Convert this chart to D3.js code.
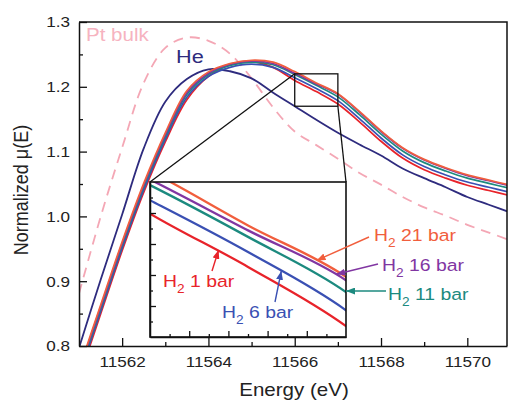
<!DOCTYPE html>
<html>
<head>
<meta charset="utf-8">
<script src="https://cdn.jsdelivr.net/npm/d3@7"></script>
<style>
body { margin: 0; background: #fff; }
svg { display: block; font-family: "Liberation Sans", Arial, sans-serif; }
</style>
</head>
<body>
<svg></svg>
<script>
var width = 508;
var height = 400;
var SX = 1.14; // the original figure's lettering is slightly wide

// energy grid (eV)
var energy = [11561, 11561.5, 11562, 11562.5, 11563, 11563.5, 11564, 11564.5, 11565, 11565.5,
    11566, 11566.5, 11567, 11567.5, 11568, 11568.5, 11569, 11569.5, 11570, 11570.5, 11571];

// normalized mu(E)
var ptBulk = [0.881, 0.999, 1.106, 1.206, 1.260, 1.276, 1.271, 1.251, 1.213, 1.168,
    1.131, 1.110, 1.089, 1.067, 1.049, 1.030, 1.014, 1.001, 0.987, 0.975, 0.963];
var he = [0.797, 0.902, 1.003, 1.105, 1.177, 1.212, 1.227, 1.224, 1.213, 1.191,
    1.170, 1.149, 1.129, 1.111, 1.094, 1.074, 1.059, 1.045, 1.030, 1.018, 1.006];
var h2_1 = [0.750, 0.849, 0.947, 1.037, 1.115, 1.180, 1.216, 1.234, 1.239, 1.230,
    1.2098, 1.1926, 1.1735, 1.146, 1.116, 1.090, 1.072, 1.059, 1.048, 1.040, 1.032];
var h2_6 = [0.754, 0.853, 0.951, 1.041, 1.119, 1.184, 1.216, 1.230, 1.235, 1.230,
    1.2141, 1.1974, 1.1786, 1.151, 1.121, 1.095, 1.077, 1.064, 1.053, 1.045, 1.037];
var h2_11 = [0.758, 0.857, 0.955, 1.045, 1.123, 1.188, 1.219, 1.233, 1.238, 1.234,
    1.2190, 1.2023, 1.1845, 1.157, 1.127, 1.101, 1.083, 1.070, 1.059, 1.051, 1.043];
var h2_16 = [0.761, 0.860, 0.958, 1.048, 1.126, 1.191, 1.221, 1.235, 1.240, 1.236,
    1.2208, 1.2044, 1.1883, 1.161, 1.131, 1.105, 1.087, 1.074, 1.063, 1.055, 1.047];
var h2_21 = [0.764, 0.863, 0.961, 1.051, 1.129, 1.194, 1.223, 1.236, 1.241, 1.238,
    1.2235, 1.2060, 1.1894, 1.162, 1.132, 1.106, 1.088, 1.075, 1.064, 1.056, 1.048];

var xTicks = [11562, 11564, 11566, 11568, 11570];
var xMinor = [11563, 11565, 11567, 11569];
var yTicks = [0.8, 0.9, 1.0, 1.1, 1.2, 1.3];
var yMinor = [0.85, 0.95, 1.05, 1.15, 1.25];

// zoomed window shown in the inset
var zoomX = [11566, 11567];
var zoomY = [1.17, 1.22];
var insetXMajor = [11566.2, 11566.4, 11566.6, 11566.8];
var insetXMinor = [11566.1, 11566.3, 11566.5, 11566.7, 11566.9];
var insetYMajor = [1.18, 1.19, 1.2, 1.21];
var insetYMinor = [1.175, 1.185, 1.195, 1.205, 1.215];

var h2Series = [
    { label: "1 bar", values: h2_1, color: "#e8232a" },
    { label: "6 bar", values: h2_6, color: "#3a50b3" },
    { label: "11 bar", values: h2_11, color: "#1c8a7f" },
    { label: "16 bar", values: h2_16, color: "#8136a2" },
    { label: "21 bar", values: h2_21, color: "#f15e3d" }
];

// label placement (px) and arrow tip energy on each curve
var annotations = [
    { s: 4, tx: 374, ty: 241, fx: 369, fy: 237, tipE: 11566.85 },
    { s: 3, tx: 382, ty: 271, fx: 378, fy: 264, tipE: 11566.95 },
    { s: 2, tx: 388, ty: 300, fx: 386, fy: 291, tipE: 11567.0 },
    { s: 1, tx: 222, ty: 318, fx: 275, fy: 302, tipE: 11566.67 },
    { s: 0, tx: 163, ty: 287, fx: 212, fy: 271, tipE: 11566.35 }
];

const svg = d3.select('svg')
    .attr('width', width)
    .attr('height', height);

const x = d3.scaleLinear().domain([11561, 11570.92]).range([79, 507]);
const y = d3.scaleLinear().domain([0.8, 1.3]).range([346, 22]);
const ix = d3.scaleLinear().domain(zoomX).range([150, 346]);
const iy = d3.scaleLinear().domain(zoomY).range([337, 182]);

const defs = svg.append('defs');
defs.append('clipPath').attr('id', 'clipMain').append('rect')
    .attr('x', x.range()[0]).attr('y', y.range()[1])
    .attr('width', x.range()[1] - x.range()[0]).attr('height', y.range()[0] - y.range()[1]);
defs.append('clipPath').attr('id', 'clipInset').append('rect')
    .attr('x', ix.range()[0]).attr('y', iy.range()[1])
    .attr('width', ix.range()[1] - ix.range()[0]).attr('height', iy.range()[0] - iy.range()[1]);

h2Series.forEach(function(s, i) {
    defs.append('marker').attr('id', 'arrow' + i)
        .attr('markerUnits', 'userSpaceOnUse')
        .attr('markerWidth', 9).attr('markerHeight', 7)
        .attr('refX', 9).attr('refY', 3.5)
        .attr('orient', 'auto')
        .append('path').attr('d', 'M0,0L9,3.5L0,7Z').attr('fill', s.color);
});

function lineFor(xs, ys) {
    return d3.line()
        .x((d, i) => xs(energy[i]))
        .y(d => ys(d))
        .curve(d3.curveCatmullRom.alpha(0.5));
}

// main curves
const main = svg.append('g').attr('clip-path', 'url(#clipMain)');
main.append('path').datum(ptBulk)
    .attr('d', lineFor(x, y)).attr('fill', 'none')
    .attr('stroke', '#f4a7b5').attr('stroke-width', 1.8).attr('stroke-dasharray', '10,7');
main.append('path').datum(he)
    .attr('d', lineFor(x, y)).attr('fill', 'none')
    .attr('stroke', '#2e2b7e').attr('stroke-width', 1.8);
main.selectAll('.h2').data(h2Series).enter().append('path')
    .attr('class', 'h2')
    .attr('d', d => lineFor(x, y)(d.values)).attr('fill', 'none')
    .attr('stroke', d => d.color).attr('stroke-width', 1.7);

// axes
function styleAxis(g) {
    g.selectAll('.domain').attr('stroke', '#111').attr('stroke-width', 1.5);
    g.selectAll('.tick line').attr('stroke', '#111').attr('stroke-width', 1.3);
    g.selectAll('.tick text').attr('font-size', '15px').attr('fill', '#222')
        .attr('font-family', '"Liberation Sans", Arial, sans-serif')
        .attr('transform', `scale(${SX},1)`);
}

svg.append('g').attr('transform', `translate(0,${y(0.8)})`)
    .call(d3.axisBottom(x).tickValues(xTicks).tickSizeInner(-8).tickSizeOuter(0).tickPadding(10).tickFormat(d3.format('d')))
    .call(styleAxis);
svg.append('g').attr('transform', `translate(0,${y(0.8)})`)
    .call(d3.axisBottom(x).tickValues(xMinor).tickSizeInner(-4).tickSizeOuter(0).tickFormat(''))
    .call(styleAxis).call(g => g.select('.domain').remove());
svg.append('g').attr('transform', `translate(${x(11561)},0)`)
    .call(d3.axisLeft(y).tickValues(yTicks).tickSizeInner(-8).tickSizeOuter(0).tickPadding(9).tickFormat(d3.format('.1f')))
    .call(styleAxis)
    .call(g => g.selectAll('.tick text').attr('x', -9 / SX));
svg.append('g').attr('transform', `translate(${x(11561)},0)`)
    .call(d3.axisLeft(y).tickValues(yMinor).tickSizeInner(-4).tickSizeOuter(0).tickFormat(''))
    .call(styleAxis).call(g => g.select('.domain').remove());

// top and right frame
svg.append('path')
    .attr('d', `M${x.range()[0]},${y(1.3)}H${x.range()[1]}V${y(0.8)}`)
    .attr('fill', 'none').attr('stroke', '#111').attr('stroke-width', 1.5);

// axis titles
svg.append('text')
    .attr('transform', `translate(294,396) scale(${SX},1)`)
    .attr('text-anchor', 'middle').attr('font-size', '18px').attr('fill', '#222')
    .text('Energy (eV)');
svg.append('text')
    .attr('transform', `translate(28,190) rotate(-90) scale(1,${SX})`)
    .attr('text-anchor', 'middle').attr('font-size', '18px').attr('fill', '#222')
    .text('Normalized \u03bc(E)');

// series labels
svg.append('text').attr('transform', `translate(86,41) scale(${SX},1)`)
    .attr('font-size', '18px').attr('fill', '#f6b3c0').text('Pt bulk');
svg.append('text').attr('transform', `translate(176,63) scale(${SX},1)`)
    .attr('font-size', '19px').attr('fill', '#2e2b7e').text('He');

// zoom window and connectors
svg.append('rect')
    .attr('x', x(zoomX[0])).attr('y', y(zoomY[1]))
    .attr('width', x(zoomX[1]) - x(zoomX[0])).attr('height', y(zoomY[0]) - y(zoomY[1]))
    .attr('fill', 'none').attr('stroke', '#111').attr('stroke-width', 1.3);
svg.append('line')
    .attr('x1', x(zoomX[0])).attr('y1', y(zoomY[1]))
    .attr('x2', ix(zoomX[0])).attr('y2', iy(zoomY[1]))
    .attr('stroke', '#111').attr('stroke-width', 1.3);
svg.append('line')
    .attr('x1', x(zoomX[1])).attr('y1', y(zoomY[0]))
    .attr('x2', ix(zoomX[1])).attr('y2', iy(zoomY[1]))
    .attr('stroke', '#111').attr('stroke-width', 1.3);

// inset
svg.append('rect')
    .attr('x', ix.range()[0]).attr('y', iy.range()[1])
    .attr('width', ix.range()[1] - ix.range()[0]).attr('height', iy.range()[0] - iy.range()[1])
    .attr('fill', '#fff');
const inset = svg.append('g').attr('clip-path', 'url(#clipInset)');
inset.selectAll('path').data(h2Series).enter().append('path')
    .attr('d', d => lineFor(ix, iy)(d.values)).attr('fill', 'none')
    .attr('stroke', d => d.color).attr('stroke-width', 2.3);

svg.append('g').attr('transform', `translate(0,${iy.range()[0]})`)
    .call(d3.axisBottom(ix).tickValues(insetXMajor).tickSizeInner(-6).tickSizeOuter(0).tickFormat(''))
    .call(styleAxis);
svg.append('g').attr('transform', `translate(0,${iy.range()[0]})`)
    .call(d3.axisBottom(ix).tickValues(insetXMinor).tickSizeInner(-3).tickSizeOuter(0).tickFormat(''))
    .call(styleAxis).call(g => g.select('.domain').remove());
svg.append('g').attr('transform', `translate(${ix.range()[0]},0)`)
    .call(d3.axisLeft(iy).tickValues(insetYMajor).tickSizeInner(-6).tickSizeOuter(0).tickFormat(''))
    .call(styleAxis);
svg.append('g').attr('transform', `translate(${ix.range()[0]},0)`)
    .call(d3.axisLeft(iy).tickValues(insetYMinor).tickSizeInner(-3).tickSizeOuter(0).tickFormat(''))
    .call(styleAxis).call(g => g.select('.domain').remove());
svg.append('rect')
    .attr('x', ix.range()[0]).attr('y', iy.range()[1])
    .attr('width', ix.range()[1] - ix.range()[0]).attr('height', iy.range()[0] - iy.range()[1])
    .attr('fill', 'none').attr('stroke', '#111').attr('stroke-width', 1.6);

// H2 labels with arrows
function valueAt(values, e) {
    var i = d3.bisectRight(energy, e) - 1;
    i = Math.max(0, Math.min(energy.length - 2, i));
    var t = (e - energy[i]) / (energy[i + 1] - energy[i]);
    return values[i] + t * (values[i + 1] - values[i]);
}

annotations.forEach(function(a) {
    var s = h2Series[a.s];
    svg.append('line')
        .attr('x1', a.fx).attr('y1', a.fy)
        .attr('x2', ix(a.tipE)).attr('y2', iy(valueAt(s.values, a.tipE)) - 1)
        .attr('stroke', s.color).attr('stroke-width', 1.4)
        .attr('marker-end', `url(#arrow${a.s})`);
    var t = svg.append('text')
        .attr('transform', `translate(${a.tx},${a.ty}) scale(${SX},1)`)
        .attr('font-size', '17px').attr('fill', s.color);
    t.append('tspan').text('H');
    t.append('tspan').attr('dy', 6).attr('font-size', '12px').text('2');
    t.append('tspan').attr('dy', -6).text('\u00a0' + s.label);
});
</script>
</body>
</html>
